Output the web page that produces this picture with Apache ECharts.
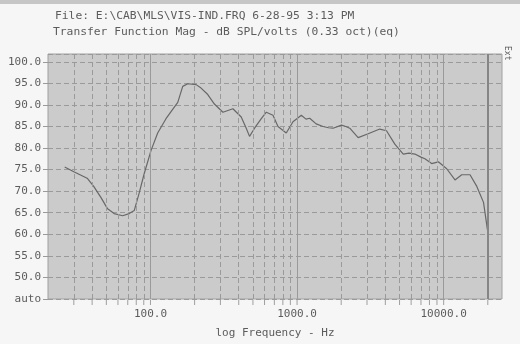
<!DOCTYPE html>
<html>
<head>
<meta charset="utf-8">
<script src="https://cdn.jsdelivr.net/npm/echarts@6/dist/echarts.min.js"></script>
<style>
html,body{margin:0;padding:0;background:#f6f6f6;}
#c{width:520px;height:344px;}
</style>
</head>
<body>
<div id="c"></div>
<script>
// Frequencies (Hz) of the measured curve
const freqs = [26, 30, 37, 41, 46, 51, 56.5, 64.6, 71.6, 77.5, 83.8, 90.7, 100.8, 112, 127.6, 145.4, 153.5, 166, 179.6, 204.7, 221.4, 246, 273, 312, 365, 416, 450, 474, 513, 570, 617, 685, 741, 844, 938, 1069, 1150, 1219, 1350, 1504, 1640, 1761, 2008, 2150, 2288, 2610, 3055, 3667, 4074, 4645, 5300, 5800, 6365, 7000, 7450, 8280, 9200, 10490, 11950, 13280, 15130, 16830, 18700, 20000];
// Magnitude (dB SPL/volts)
const levels = [75.6, 74.5, 73.0, 71.1, 68.5, 65.9, 64.8, 64.3, 64.8, 65.5, 69.6, 74.1, 79.4, 83.5, 86.8, 89.5, 90.6, 94.3, 94.9, 94.7, 93.9, 92.4, 90.2, 88.3, 89.1, 87.2, 84.6, 82.7, 84.6, 86.8, 88.3, 87.6, 85.0, 83.5, 86.1, 87.6, 86.7, 86.9, 85.6, 85.0, 84.7, 84.6, 85.3, 85.0, 84.6, 82.4, 83.3, 84.4, 84.0, 80.9, 78.6, 78.8, 78.6, 77.9, 77.5, 76.4, 76.8, 75.2, 72.6, 73.8, 73.8, 71.1, 67.4, 60.5];
// Grid line frequencies
const minorGridFreqs = [30, 40, 50, 60, 70, 80, 90, 200, 300, 400, 500, 600, 700, 800, 900, 2000, 3000, 4000, 5000, 6000, 7000, 8000, 9000];
const decadeFreqs = [100, 1000, 10000];
const endFreq = 20000;
// Tick labels
const xTickValues = [100, 1000, 10000];
const xTickLabels = ['100.0', '1000.0', '10000.0'];
const yBottomLabel = 'auto';
const titleLine1 = 'File: E:\\CAB\\MLS\\VIS-IND.FRQ 6-28-95 3:13 PM';
const titleLine2 = 'Transfer Function Mag - dB SPL/volts (0.33 oct)(eq)';
const xName = 'log Frequency - Hz';
const sideText = 'Ext';

const FONT = 'DejaVu Sans Mono';
const TXT = '#5c5c5c';
const GRIDC = '#9a9a9a';

const chart = echarts.init(document.getElementById('c'), null, {renderer: 'canvas'});
const curve = freqs.map((f, i) => [f, levels[i]]);
const tickFreqs = minorGridFreqs.concat(decadeFreqs).concat([endFreq]);

const mlData = minorGridFreqs.map(f => ({xAxis: f, lineStyle: {type: [5, 3], color: GRIDC, width: 1}}))
  .concat(decadeFreqs.map(f => ({xAxis: f, lineStyle: {type: 'solid', color: GRIDC, width: 1}})))
  .concat([{xAxis: endFreq, lineStyle: {type: 'solid', color: '#858585', width: 2}}]);

chart.setOption({
  animation: false,
  backgroundColor: '#f6f6f6',
  textStyle: {fontFamily: FONT},
  grid: {left: 48, right: 18, top: 54, bottom: 38, show: true, backgroundColor: '#cbcbcb', borderColor: '#a0a0a0', borderWidth: 1},
  graphic: [
    {type: 'rect', left: 0, top: 0, shape: {width: 520, height: 4}, style: {fill: '#c6c6c6'}},
    {type: 'text', left: 55, top: 11, style: {text: titleLine1, font: '11.3px "' + FONT + '"', fill: TXT}},
    {type: 'text', left: 53, top: 27, style: {text: titleLine2, font: '11.3px "' + FONT + '"', fill: TXT}},
    {type: 'text', left: 503, top: 46, rotation: -Math.PI / 2, style: {text: sideText, font: '8px "' + FONT + '"', fill: TXT}}
  ],
  xAxis: {
    type: 'log', logBase: 10, min: 20, max: 25000,
    name: xName, nameLocation: 'middle', nameGap: 29,
    nameTextStyle: {fontFamily: FONT, fontSize: 11, color: TXT},
    axisLine: {show: false}, axisTick: {show: false}, splitLine: {show: false},
    axisLabel: {
      showMinLabel: false, showMaxLabel: false, margin: 10,
      fontFamily: FONT, fontSize: 11, color: TXT,
      formatter: v => { const i = xTickValues.indexOf(Math.round(v)); return i >= 0 ? xTickLabels[i] : ''; }
    }
  },
  yAxis: {
    type: 'value', min: 45, max: 101.8, interval: 5,
    axisLine: {show: false},
    axisTick: {show: true, length: 5, lineStyle: {color: GRIDC}},
    splitLine: {show: true, lineStyle: {type: [5, 3], color: GRIDC, width: 1}},
    axisLabel: {
      showMaxLabel: false, margin: 7, fontFamily: FONT, fontSize: 11, color: TXT,
      formatter: v => v === 45 ? yBottomLabel : v.toFixed(1)
    }
  },
  series: [
    {
      type: 'line', data: curve, showSymbol: false, smooth: false,
      lineStyle: {color: '#686868', width: 1.2},
      markLine: {silent: true, symbol: 'none', label: {show: false}, data: mlData, animation: false},
      z: 3
    },
    {
      type: 'scatter', data: tickFreqs.map(f => [f, 45]), symbol: 'rect', symbolSize: [1, 5],
      symbolOffset: [0, 3.5], clip: false, silent: true, itemStyle: {color: '#8a8a8a'}
    }
  ]
});
</script>
</body>
</html>
